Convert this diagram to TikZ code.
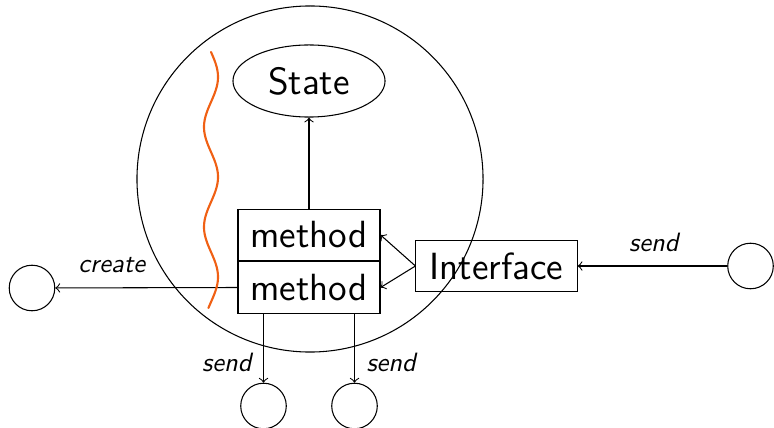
\documentclass[tikz,border=0pt]{standalone}
\usetikzlibrary{shapes.geometric,calc}
\definecolor{wave}{RGB}{240,96,20}
\tikzset{
  big/.style={font=\sffamily\fontsize{14.3}{17}\selectfont},
  lbl/.style={font=\sffamily\itshape\fontsize{10}{12}\selectfont},
  box/.style={draw, big, rectangle, minimum width=53.6pt, minimum height=19.6pt, inner sep=0pt},
  port/.style={draw, circle, minimum size=17.2pt, inner sep=0pt},
  msg/.style={->},
}
\begin{document}
\begin{tikzpicture}[x=0.3774pt, y=-0.3774pt]
  \useasboundingbox (0,0) rectangle (774,428);
  % the object: outer boundary
  \node[draw, circle, minimum size=130.6pt, inner sep=0pt] (obj) at (310,179) {};
  % internal state
  \node[draw, ellipse, big, minimum width=57.4pt, minimum height=27.2pt, inner sep=0pt] (state) at (309,81) {State};
  % methods
  \node[box] (m1) at (309,235) {method};
  \node[box] (m2) at (309,287.5) {method};
  % interface
  \node[box, minimum width=60.8pt, inner sep=2pt] (iface) at (496.5,266) {Interface};
  % other objects
  \node[port] (left)  at (32,288) {};
  \node[port] (right) at (750.5,266) {};
  \node[port] (b1)    at (263.5,406) {};
  \node[port] (b2)    at (354.5,406) {};
  % connectors
  \draw[msg] (m1) -- (state);
  \draw[msg] (iface.west) -- (m1.east);
  \draw[msg] (iface.west) -- (m2.east);
  \draw[msg] (right) -- node[lbl, above, pos=0.49, yshift=2pt] {send} (iface);
  \draw[msg] (m2.west) -- node[lbl, above, pos=0.69, yshift=2pt] {create} (left);
  \draw[msg] (b1 |- m2.south) -- node[lbl, left, pos=0.7, xshift=-1pt] {send} (b1);
  \draw[msg] (b2 |- m2.south) -- node[lbl, right, pos=0.7, xshift=1pt] {send} (b2);
  % encapsulation boundary
  \draw[wave, line width=0.8pt, line cap=round]
    plot[domain=0:256, samples=120, smooth] ({211+7*sin(\x*3.6)}, {52+\x});
\end{tikzpicture}
\end{document}
